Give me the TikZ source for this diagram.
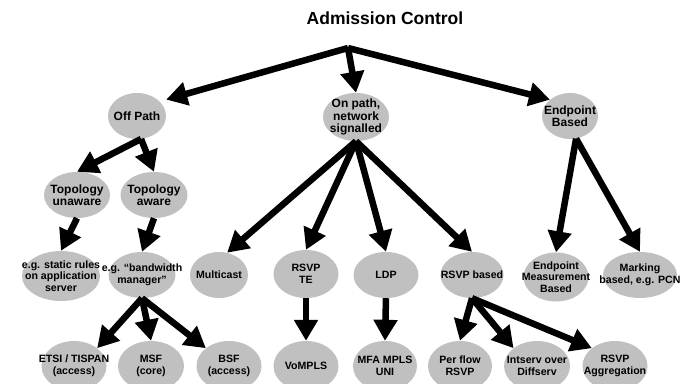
\documentclass[tikz,border=0pt]{standalone}
\usepackage{fontspec}
\setmainfont{Liberation Sans}
\usetikzlibrary{shapes.geometric, arrows.meta}

\definecolor{blobgray}{RGB}{192,192,192}

\begin{document}
\begin{tikzpicture}[x=1pt, y=-1pt,
  blob/.style={ellipse, fill=blobgray, inner sep=0pt},
  bigtxt/.style={font=\fontsize{12}{12.5}\selectfont\bfseries, align=center, inner sep=0pt},
  smalltxt/.style={font=\fontsize{10.6}{11.6}\selectfont\bfseries, align=center, inner sep=0pt},
  thickarrow/.style={line width=6.5pt, -{Triangle[length=21pt, width=23pt]}}]
  \newcommand\blobheight{46pt}
  \newcommand\lowheight{50pt}

  \fill[white] (0, 0) rectangle (691, 383);
  \useasboundingbox (0, 0) rectangle (691, 383);

  \node[font=\fontsize{17.5}{20}\selectfont\bfseries, inner sep=0pt] at (385, 18) (title) {Admission Control};
  \coordinate (root) at (348, 48);

  % first level
  \node[blob, minimum width=58pt, minimum height=\blobheight, label={[bigtxt]center:Off Path}] at (137, 116) (offpath) {};
  \node[blob, minimum width=66pt, minimum height=48pt, label={[bigtxt]center:{On path,\\network\\signalled}}] at (356, 117) (onpath) {};
  \node[blob, minimum width=56pt, minimum height=\blobheight, label={[bigtxt]center:{Endpoint\\Based}}] at (570, 116) (endpoint) {};

  % off path split
  \node[blob, minimum width=66pt, minimum height=\blobheight, label={[bigtxt]center:{Topology\\unaware}}] at (77, 195) (topounaware) {};
  \node[blob, minimum width=67pt, minimum height=\blobheight, label={[bigtxt]center:{Topology\\aware}}] at (154, 195) (topoaware) {};

  % third row
  \node[blob, minimum width=78pt, minimum height=50pt, label={[smalltxt]center:{e.g. static rules\\on application\\server}}] at (61, 276) (staticrules) {};
  \node[blob, minimum width=67pt, minimum height=\blobheight, label={[smalltxt]center:{e.g. “bandwidth\\manager”}}] at (142, 275) (bwmanager) {};
  \node[blob, minimum width=58pt, minimum height=\blobheight, label={[smalltxt]center:Multicast}] at (219, 275) (multicast) {};
  \node[blob, minimum width=65pt, minimum height=48pt, label={[smalltxt]center:{RSVP\\TE}}] at (306, 274) (rsvpte) {};
  \node[blob, minimum width=65pt, minimum height=\blobheight, label={[smalltxt]center:LDP}] at (386, 275) (ldp) {};
  \node[blob, minimum width=63pt, minimum height=\blobheight, label={[smalltxt]center:RSVP based}] at (472, 275) (rsvpbased) {};
  \node[blob, minimum width=65pt, minimum height=49pt, label={[smalltxt]center:{Endpoint\\Measurement\\Based}}] at (556, 277) (epmeasure) {};
  \node[blob, minimum width=74pt, minimum height=\blobheight, label={[smalltxt]center:{Marking\\based, e.g. PCN}}] at (640, 275) (marking) {};

  % bottom row
  \node[blob, minimum width=65pt, minimum height=\lowheight, label={[smalltxt]center:{ETSI / TISPAN\\(access)}}] at (74, 366) (etsi) {};
  \node[blob, minimum width=66pt, minimum height=\lowheight, label={[smalltxt]center:{MSF\\(core)}}] at (151, 366) (msf) {};
  \node[blob, minimum width=65pt, minimum height=\lowheight, label={[smalltxt]center:{BSF\\(access)}}] at (229, 366) (bsf) {};
  \node[blob, minimum width=65pt, minimum height=\lowheight, label={[smalltxt]center:VoMPLS}] at (306, 366) (vompls) {};
  \node[blob, minimum width=64pt, minimum height=\lowheight, label={[smalltxt]center:{MFA MPLS\\UNI}}] at (385, 366) (mfa) {};
  \node[blob, minimum width=64pt, minimum height=\lowheight, label={[smalltxt]center:{Per flow\\RSVP}}] at (460, 366) (perflow) {};
  \node[blob, minimum width=66pt, minimum height=\lowheight, label={[smalltxt]center:{Intserv over\\Diffserv}}] at (537, 366) (intserv) {};
  \node[blob, minimum width=65pt, minimum height=\lowheight, label={[smalltxt]center:{RSVP\\Aggregation}}] at (615, 366) (rsvpagg) {};

  % arrows
  \draw[thickarrow] (root) -- (offpath.east |- offpath.north east);
  \draw[thickarrow] (root) -- (onpath.north);
  \draw[thickarrow] (root) -- (endpoint.north west);

  \foreach \from/\to in {offpath.-80/topounaware.north, offpath.-80/topoaware.north,
      topounaware.south/staticrules.north, topoaware.south/bwmanager.north,
      onpath.south/multicast.70, onpath.south/rsvpte.north, onpath.south/ldp.north, onpath.south/rsvpbased.north,
      endpoint.-75/epmeasure.north, endpoint.-75/marking.north,
      bwmanager.south/etsi.north east, bwmanager.south/msf.north, bwmanager.south/bsf.north west,
      rsvpte.south/vompls.north, ldp.south/mfa.north,
      rsvpbased.south/perflow.north, rsvpbased.south/intserv.north west, rsvpbased.south/rsvpagg.north west}
    \draw[thickarrow] (\from) -- (\to);
\end{tikzpicture}
\end{document}
